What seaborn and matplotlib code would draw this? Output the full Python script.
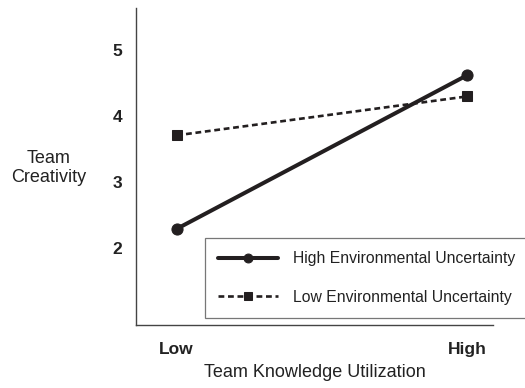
import matplotlib
matplotlib.use("Agg")
import matplotlib.pyplot as plt
import seaborn as sns
import pandas as pd

levels = ["Low", "High"]
x_pos = [0, 1]
high_eu = [2.29, 4.62]
low_eu = [3.71, 4.30]
series_names = ["High Environmental Uncertainty", "Low Environmental Uncertainty"]
y_ticks = [2, 3, 4, 5]

sns.set_style("white")
plt.rcParams['font.family'] = ['Liberation Sans', 'DejaVu Sans']

df = pd.DataFrame({
    "x": x_pos * 2,
    "y": high_eu + low_eu,
    "group": [series_names[0]] * 2 + [series_names[1]] * 2,
})

fig = plt.figure(figsize=(5.25, 3.88), dpi=100)
ax = fig.add_axes([0.259, 0.162, 0.68, 0.817])

ink = "#231f20"
sns.lineplot(data=df[df.group == series_names[0]], x="x", y="y", ax=ax,
             color=ink, lw=2.9, marker="o", markersize=8,
             markeredgecolor=ink, label=series_names[0])
sns.lineplot(data=df[df.group == series_names[1]], x="x", y="y", ax=ax,
             color=ink, lw=1.9, marker="s", markersize=7,
             markeredgecolor=ink, linestyle=(0, (2.2, 1.4)), label=series_names[1])

ax.set_xlim(-0.14, 1.09)
ax.set_ylim(0.83, 5.64)
ax.set_xticks(x_pos)
ax.set_xticklabels(levels, fontsize=12.5, fontweight="bold", color="#222222")
ax.set_yticks(y_ticks)
ax.set_yticklabels([str(t) for t in y_ticks], fontsize=12.5, fontweight="bold", color="#222222")
ax.tick_params(axis="both", length=0)
ax.tick_params(axis="y", pad=10)
ax.tick_params(axis="x", pad=12)
for s in ["top", "right"]:
    ax.spines[s].set_visible(False)
for s in ["left", "bottom"]:
    ax.spines[s].set_color("#444444")
    ax.spines[s].set_linewidth(1.0)

ax.set_xlabel("Team Knowledge Utilization", fontsize=13, labelpad=5, color="#222222")
ax.set_ylabel("")
fig.text(0.092, 0.567, "Team\nCreativity", ha="center", va="center", fontsize=13,
         linespacing=1.2, color="#222222")

leg = ax.legend(loc="upper left", bbox_to_anchor=(0.390, 0.387),
                bbox_transform=fig.transFigure, frameon=True, fancybox=False,
                fontsize=11.3, handlelength=3.8, labelspacing=1.5,
                borderpad=0.85, handletextpad=1.0, borderaxespad=0,
                markerscale=0.8)
leg.get_frame().set_edgecolor("#555555")
leg.get_frame().set_linewidth(0.9)
for t in leg.get_texts():
    t.set_color("#222222")

fig.savefig("out.png", dpi=100)
